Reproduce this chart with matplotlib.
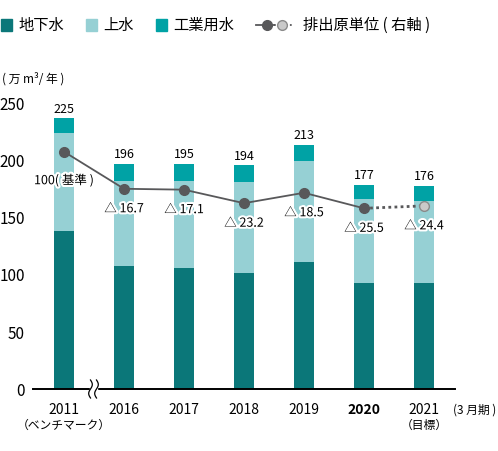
import numpy as np
import matplotlib
matplotlib.use("Agg")
import matplotlib.pyplot as plt
import matplotlib.patheffects as pe
from matplotlib.patches import Rectangle
from matplotlib.lines import Line2D

plt.rcParams['font.family'] = ['Noto Sans CJK JP', 'DejaVu Sans']

# data
years = ['2011', '2016', '2017', '2018', '2019', '2020', '2021']
sub_labels = ['（ベンチマーク）', '', '', '', '', '', '（目標）']
groundwater = [138, 108, 106, 102, 111, 93, 93]
tap_water = [86, 74, 76, 79, 89, 73, 72]
industrial = [13, 15, 15, 15, 14, 13, 13]
totals = ['225', '196', '195', '194', '213', '177', '176']
intensity = [100, 83.3, 82.9, 76.8, 81.5, 74.5, 75.6]
intensity_labels = ['100( 基準 )', '△ 16.7', '△ 17.1', '△ 23.2', '△ 18.5', '△ 25.5', '△ 24.4']

c_ground = '#0b7779'
c_tap = '#96d0d4'
c_ind = '#00a2a5'
c_line = '#58585a'

W, H = 498, 451
fig = plt.figure(figsize=(W / 100, H / 100), dpi=100)

def fx(px):
    return px / W

def fy(py):
    return 1 - py / H

ax = fig.add_axes([fx(33), fy(389.3), fx(455) - fx(33), fy(91.9) - fy(389.3)])
x = np.arange(len(years))
bw = 0.32
g = np.array(groundwater)
t = np.array(tap_water)
i = np.array(industrial)
ax.bar(x, g, bw, color=c_ground, zorder=2)
ax.bar(x, t, bw, bottom=g, color=c_tap, zorder=2)
ax.bar(x, i, bw, bottom=g + t, color=c_ind, zorder=2)
for xi, top, lab in zip(x, g + t + i, totals):
    ax.annotate(lab, (xi, top), xytext=(0, 9), textcoords='offset pixels',
                ha='center', va='center', fontsize=9)

ax.set_xlim(-0.517, 6.517)
ax.set_ylim(0, 260)
ax.set_yticks([0, 50, 100, 150, 200, 250])
ax.tick_params(axis='y', length=0, labelsize=11, pad=6)
ax.tick_params(axis='x', length=0)
ax.set_xticks([])
for s in ['top', 'right', 'left']:
    ax.spines[s].set_visible(False)
ax.spines['bottom'].set_linewidth(1.4)

# x labels
for xi, yr, sub in zip(x, years, sub_labels):
    ax.annotate(yr, (xi, 0), xytext=(0, -21), textcoords='offset pixels',
                ha='center', va='center', fontsize=10,
                fontweight='bold' if yr == '2020' else 'normal')
    if sub:
        ax.annotate(sub, (xi, 0), xytext=(0, -36), textcoords='offset pixels',
                    ha='center', va='center', fontsize=8.5)
fig.text(fx(475), fy(410), '(3 月期 )', ha='center', va='center', fontsize=8.5)

# right axis: intensity index
ax2 = ax.twinx()
ax2.set_ylim(100 - 207.7 / 1.94, 100 + (260 - 207.7) / 1.94)
ax2.axis('off')
ax2.plot(x[:-1], intensity[:-1], color=c_line, lw=1.3, marker='o', ms=7,
         mfc=c_line, mec=c_line, zorder=3)
ax2.plot(x[-2:], intensity[-2:], color=c_line, lw=2, ls=(0, (1, 1.2)), zorder=3)
ax2.plot(x[-1], intensity[-1], marker='o', ms=7, mfc='#c9c9c9', mec='#8a8a8a',
         mew=1, ls='none', zorder=4)
for xi, v, lab in zip(x, intensity, intensity_labels):
    off = -29 if xi == 0 else -20
    ax2.annotate(lab, (xi, v), xytext=(0, off), textcoords='offset pixels',
                 ha='center', va='center', fontsize=9, zorder=5,
                 path_effects=[pe.withStroke(linewidth=3, foreground='white')])

# axis break mark
fig.add_artist(Rectangle((fx(90), fy(392)), fx(97) - fx(90), fy(386) - fy(392),
                         color='white', zorder=10))
tt = np.linspace(0, 1, 40)
for x0 in (90.5, 96.5):
    xs = x0 + 1.8 * np.sin(tt * 2 * np.pi)
    ys = 380 + 18 * tt
    fig.add_artist(Line2D(fx(xs), fy(ys), color='black', lw=0.9, zorder=11))

# unit label
fig.text(fx(2), fy(79), '( 万 m³/ 年 )', ha='left', va='center', fontsize=8.5)

# legend
ly = 25
for x0, col, lab, tx in [(1, c_ground, '地下水', 18), (86, c_tap, '上水', 103),
                         (155.5, c_ind, '工業用水', 173)]:
    fig.add_artist(Rectangle((fx(x0), fy(ly + 5.5)), fx(11), 11 / H, color=col))
    fig.text(fx(tx), fy(ly), lab, ha='left', va='center', fontsize=11)
fig.add_artist(Line2D([fx(256), fx(274)], [fy(ly), fy(ly)], color=c_line, lw=1.3))
fig.add_artist(Line2D([fx(274), fx(293)], [fy(ly), fy(ly)], color=c_line, lw=1.3,
                      ls=(0, (1, 1.2))))
fig.add_artist(Line2D([fx(266.5)], [fy(ly)], marker='o', ms=7, mfc=c_line, mec=c_line))
fig.add_artist(Line2D([fx(281.5)], [fy(ly)], marker='o', ms=7, mfc='#c9c9c9',
                      mec='#8a8a8a', mew=1))
fig.text(fx(303), fy(ly), '排出原単位 ( 右軸 )', ha='left', va='center', fontsize=11)

fig.savefig('out.png', dpi=100)
